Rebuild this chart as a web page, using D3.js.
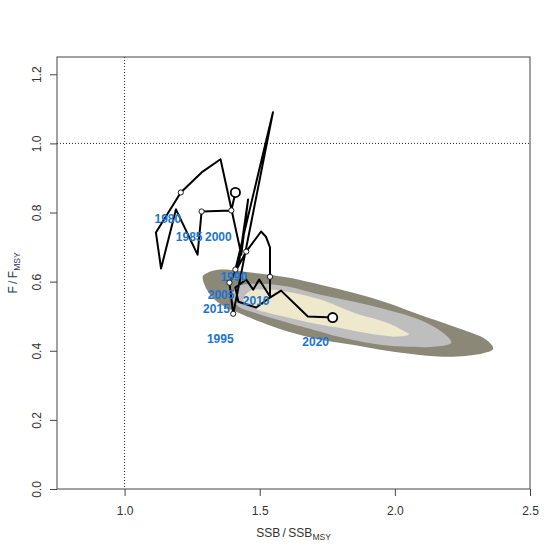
<!DOCTYPE html>
<html>
<head>
<meta charset="utf-8">
<script src="https://cdn.jsdelivr.net/npm/d3@7"></script>
<style>
  body { margin: 0; background: #fff; }
  text { font-family: Arial, "Liberation Sans", sans-serif; }
</style>
</head>
<body>
<div id="node"></div>
<script>
// trajectory (SSB/SSBmsy, F/Fmsy)
var ssb = [1.410, 1.395, 1.285, 1.270, 1.190, 1.135, 1.116, 1.208, 1.285, 1.355,
           1.432, 1.457, 1.424, 1.410, 1.549, 1.402, 1.388, 1.450, 1.505, 1.523,
           1.538, 1.538, 1.538, 1.498, 1.476, 1.450, 1.410, 1.421, 1.487, 1.538,
           1.579, 1.678, 1.770];
var f   = [0.858, 0.806, 0.803, 0.678, 0.809, 0.638, 0.742, 0.858, 0.916, 0.954,
           0.678, 0.838, 0.658, 0.635, 1.090, 0.507, 0.597, 0.687, 0.745, 0.730,
           0.699, 0.614, 0.557, 0.606, 0.577, 0.606, 0.583, 0.542, 0.525, 0.554,
           0.574, 0.499, 0.496];
// which points carry a small open marker
var marked = [false, true, true, false, false, false, false, true, false, false,
              false, false, false, true, false, true, true, true, false, false,
              false, true, false, false, false, false, false, false, false, false,
              false, false, false];

// year labels
var yearLab = ["1980", "1985", "2000", "1990", "2005", "2010", "2015", "1995", "2020"];
var yearX   = [1.160, 1.239, 1.347, 1.404, 1.357, 1.487, 1.340, 1.354, 1.707];
var yearY   = [0.781, 0.729, 0.729, 0.613, 0.561, 0.545, 0.523, 0.436, 0.427];

// confidence region contours (outer 95%, 80%, 50%)
var outerX = [1.289, 1.305, 1.354, 1.482, 1.604, 1.725, 1.849, 1.971, 2.092, 2.217, 2.338, 2.364,
              2.327, 2.217, 2.092, 1.971, 1.849, 1.725, 1.604, 1.482, 1.421, 1.358, 1.311];
var outerY = [0.615, 0.625, 0.635, 0.625, 0.612, 0.591, 0.567, 0.539, 0.504, 0.470, 0.432, 0.406,
              0.393, 0.383, 0.388, 0.400, 0.417, 0.432, 0.456, 0.490, 0.510, 0.533, 0.568];
var midX = [1.395, 1.421, 1.494, 1.604, 1.725, 1.849, 1.971, 2.092, 2.173, 2.209,
            2.154, 2.032, 1.909, 1.788, 1.725, 1.604, 1.482, 1.421];
var midY = [0.557, 0.586, 0.594, 0.586, 0.562, 0.542, 0.519, 0.490, 0.455, 0.424,
            0.412, 0.412, 0.422, 0.441, 0.455, 0.481, 0.510, 0.528];
var innerX = [1.439, 1.465, 1.531, 1.604, 1.725, 1.849, 1.971, 2.032, 2.052,
              2.008, 1.909, 1.788, 1.725, 1.604, 1.482];
var innerY = [0.548, 0.574, 0.577, 0.571, 0.548, 0.510, 0.481, 0.458, 0.448,
              0.441, 0.449, 0.467, 0.475, 0.496, 0.522];
var regionCols = ["#8B8878", "#BEBEBE", "#EEE8CD"];

var xTicks = [1.0, 1.5, 2.0, 2.5];
var yTicks = [0.0, 0.2, 0.4, 0.6, 0.8, 1.0, 1.2];

var W = 560, H = 560;
var margin = { top: 57, right: 30, bottom: 71, left: 57 };
var width = W - margin.left - margin.right,
    height = H - margin.top - margin.bottom;

var svg = d3.select("#node")
    .append("svg")
    .attr("width", W)
    .attr("height", H)
    .append("g")
    .attr("transform", "translate(" + margin.left + "," + margin.top + ")");

var x = d3.scaleLinear().domain([0.75, 2.5]).range([0, width]);
var y = d3.scaleLinear().domain([0, 1.25]).range([height, 0]);

// shaded regions
var area = d3.line()
    .x(d => x(d[0]))
    .y(d => y(d[1]))
    .curve(d3.curveCatmullRomClosed.alpha(0.5));
[[outerX, outerY], [midX, midY], [innerX, innerY]].forEach((c, k) => {
    svg.append("path")
        .datum(d3.zip(c[0], c[1]))
        .attr("d", area)
        .attr("fill", regionCols[k]);
});

// reference lines
svg.append("line")
    .attr("x1", x(1)).attr("x2", x(1))
    .attr("y1", 0).attr("y2", height)
    .attr("stroke", "#222").attr("stroke-width", 1)
    .attr("stroke-dasharray", "1,2");
svg.append("line")
    .attr("x1", 0).attr("x2", width)
    .attr("y1", y(1)).attr("y2", y(1))
    .attr("stroke", "#222").attr("stroke-width", 1)
    .attr("stroke-dasharray", "1,2");

// trajectory
var pts = d3.zip(ssb, f);
svg.append("path")
    .datum(pts)
    .attr("d", d3.line().x(d => x(d[0])).y(d => y(d[1])))
    .attr("fill", "none")
    .attr("stroke", "#000")
    .attr("stroke-width", 2)
    .attr("stroke-linejoin", "round");

svg.append("g")
    .selectAll("circle")
    .data(pts.filter((d, i) => marked[i]))
    .enter()
    .append("circle")
    .attr("cx", d => x(d[0]))
    .attr("cy", d => y(d[1]))
    .attr("r", 2.6)
    .attr("fill", "#fff")
    .attr("stroke", "#000")
    .attr("stroke-width", 0.9);

// first and last year
svg.append("g")
    .selectAll("circle")
    .data([pts[0], pts[pts.length - 1]])
    .enter()
    .append("circle")
    .attr("cx", d => x(d[0]))
    .attr("cy", d => y(d[1]))
    .attr("r", 4.6)
    .attr("fill", "#fff")
    .attr("stroke", "#000")
    .attr("stroke-width", 1.8);

// year labels
svg.append("g")
    .selectAll("text")
    .data(yearLab)
    .enter()
    .append("text")
    .attr("x", (d, i) => x(yearX[i]))
    .attr("y", (d, i) => y(yearY[i]))
    .attr("dy", "0.36em")
    .attr("text-anchor", "middle")
    .attr("font-size", 12)
    .attr("font-weight", "bold")
    .attr("fill", "#1C74D0")
    .text(d => d);

// box
svg.append("rect")
    .attr("width", width).attr("height", height)
    .attr("fill", "none")
    .attr("stroke", "#444").attr("stroke-width", 1);

// axes
var xAxis = svg.append("g")
    .attr("transform", "translate(0," + height + ")")
    .call(d3.axisBottom(x).tickValues(xTicks).tickFormat(d3.format(".1f")).tickSize(7).tickPadding(10));
var yAxis = svg.append("g")
    .call(d3.axisLeft(y).tickValues(yTicks).tickFormat(d3.format(".1f")).tickSize(7).tickPadding(9));
[xAxis, yAxis].forEach(a => {
    a.select(".domain").remove();
    a.selectAll("line").attr("stroke", "#444");
    a.selectAll("text").attr("font-size", 12).attr("fill", "#333")
        .style("font-family", "Arial, 'Liberation Sans', sans-serif");
});
yAxis.selectAll(".tick text")
    .attr("text-anchor", "middle")
    .attr("transform", "rotate(-90)")
    .attr("x", 0)
    .attr("y", -16)
    .attr("dy", "0.0em");

// axis titles
var xl = svg.append("text")
    .attr("x", width / 2)
    .attr("y", height + 48)
    .attr("text-anchor", "middle")
    .attr("font-size", 12)
    .attr("fill", "#333");
xl.append("tspan").text("SSB\u2009/\u2009SSB");
xl.append("tspan").attr("font-size", 8.5).attr("dy", 3).text("MSY");

var yl = svg.append("text")
    .attr("transform", "translate(" + (-40) + "," + (height / 2) + ") rotate(-90)")
    .attr("text-anchor", "middle")
    .attr("font-size", 12)
    .attr("fill", "#2a3a55");
yl.append("tspan").text("F\u2009/\u2009F");
yl.append("tspan").attr("font-size", 8.5).attr("dy", 3).text("MSY");
</script>
</body>
</html>
